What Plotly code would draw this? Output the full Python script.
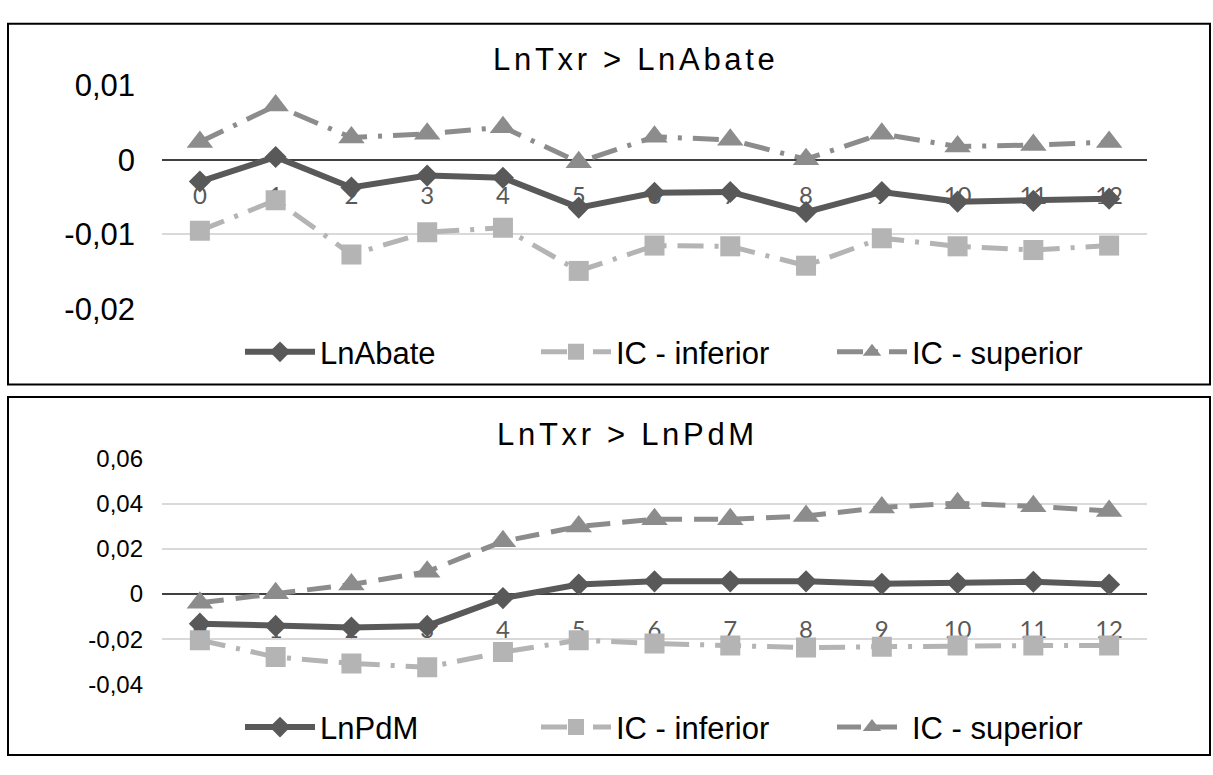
import plotly.graph_objects as go

# ---------------- data ----------------
periods = [0, 1, 2, 3, 4, 5, 6, 7, 8, 9, 10, 11, 12]

abate = [-0.0029, 0.0004, -0.0037, -0.0021, -0.0024, -0.0064, -0.0044,
         -0.0043, -0.0070, -0.0043, -0.0056, -0.0055, -0.0052]
abate_inf = [-0.0095, -0.0054, -0.0127, -0.0097, -0.0091, -0.0149, -0.0115,
             -0.0116, -0.0142, -0.0105, -0.0116, -0.0121, -0.0115]
abate_sup = [0.0024, 0.0073, 0.0030, 0.0035, 0.0044, -0.0003, 0.0031,
             0.0027, 0.0001, 0.0035, 0.0018, 0.0020, 0.0024]

pdm = [-0.0131, -0.0141, -0.0148, -0.0141, -0.0018, 0.0042, 0.0056,
       0.0056, 0.0056, 0.0045, 0.0049, 0.0054, 0.0042]
pdm_inf = [-0.0204, -0.0279, -0.0307, -0.0324, -0.0257, -0.0204, -0.0219,
           -0.0228, -0.0237, -0.0233, -0.0228, -0.0228, -0.0228]
pdm_sup = [-0.0039, 0.0003, 0.0042, 0.0099, 0.0233, 0.0299, 0.0331,
           0.0331, 0.0345, 0.0383, 0.0402, 0.0388, 0.0367]

top_yticks = [-0.02, -0.01, 0, 0.01]
top_yticktext = ["-0,02", "-0,01", "0", "0,01"]
bot_yticks = [-0.04, -0.02, 0, 0.02, 0.04, 0.06]
bot_yticktext = ["-0,04", "-0,02", "0", "0,02", "0,04", "0,06"]

title_top = "LnTxr > LnAbate"
title_bot = "LnTxr > LnPdM"
names_top = ["LnAbate", "IC - inferior", "IC - superior"]
names_bot = ["LnPdM", "IC - inferior", "IC - superior"]

# ---------------- layout helpers ----------------
W, H = 1213, 775


def fx(px):
    return px / W


def fy(px):
    return 1 - px / H


x_dom = [fx(162), fx(1147)]
top_dom = [fy(305.7), fy(71.7)]
bot_dom = [fy(699), fy(462.3)]
top_range = [-0.02, 0.01]
bot_range = [-0.04, 0.06]


def zero_pos(dom, rng):
    return dom[0] + (0 - rng[0]) / (rng[1] - rng[0]) * (dom[1] - dom[0])


C_MAIN = "#595959"
C_INF = "#b4b4b4"
C_SUP = "#8c8c8c"

fig = go.Figure()

# top chart
fig.add_trace(go.Scatter(x=periods, y=abate, name=names_top[0], mode="lines+markers",
                         line=dict(color=C_MAIN, width=6),
                         marker=dict(symbol="diamond", size=17, color=C_MAIN),
                         xaxis="x", yaxis="y", legend="legend"))
fig.add_trace(go.Scatter(x=periods, y=abate_inf, name=names_top[1], mode="lines+markers",
                         line=dict(color=C_INF, width=5, dash="26px,11px,4px,11px"),
                         marker=dict(symbol="square", size=20, color=C_INF),
                         xaxis="x", yaxis="y", legend="legend"))
fig.add_trace(go.Scatter(x=periods, y=abate_sup, name=names_top[2], mode="lines+markers",
                         line=dict(color=C_SUP, width=5, dash="26px,11px,4px,11px"),
                         marker=dict(symbol="triangle-up", size=23, color=C_SUP),
                         xaxis="x", yaxis="y", legend="legend"))

# bottom chart
fig.add_trace(go.Scatter(x=periods, y=pdm, name=names_bot[0], mode="lines+markers",
                         line=dict(color=C_MAIN, width=6),
                         marker=dict(symbol="diamond", size=17, color=C_MAIN),
                         xaxis="x2", yaxis="y2", legend="legend2"))
fig.add_trace(go.Scatter(x=periods, y=pdm_inf, name=names_bot[1], mode="lines+markers",
                         line=dict(color=C_INF, width=5, dash="26px,11px,4px,11px"),
                         marker=dict(symbol="square", size=20, color=C_INF),
                         xaxis="x2", yaxis="y2", legend="legend2"))
fig.add_trace(go.Scatter(x=periods, y=pdm_sup, name=names_bot[2], mode="lines+markers",
                         line=dict(color=C_SUP, width=5, dash="24px,12px"),
                         marker=dict(symbol="triangle-up", size=23, color=C_SUP),
                         xaxis="x2", yaxis="y2", legend="legend2"))

xfont = dict(family="Lato, Carlito, Liberation Sans, sans-serif", size=24, color="#595959")
common_x = dict(range=[-0.5, 12.5], tickmode="array", tickvals=periods,
                ticktext=[str(p) for p in periods], showgrid=False, zeroline=False,
                showline=False, ticks="", tickfont=xfont, layer="below traces",
                anchor="free", fixedrange=True)
common_y = dict(showgrid=True, gridcolor="#d9d9d9", gridwidth=1.5, zeroline=True,
                zerolinecolor="#404040", zerolinewidth=2, showline=False, ticks="",
                tickmode="array", layer="below traces", fixedrange=True)

legend_common = dict(orientation="h", xanchor="left", yanchor="middle",
                     font=dict(size=31, color="#000000"), entrywidth=211,
                     itemwidth=70, bgcolor="rgba(0,0,0,0)")

fig.update_layout(
    width=W, height=H,
    margin=dict(l=0, r=0, t=0, b=0),
    paper_bgcolor="white", plot_bgcolor="white",
    font=dict(family="Liberation Sans, Arial, sans-serif", color="#000000"),
    showlegend=True,
    xaxis=dict(domain=x_dom, position=zero_pos(top_dom, top_range),
               ticklabelstandoff=19, **common_x),
    xaxis2=dict(domain=x_dom, position=zero_pos(bot_dom, bot_range),
                ticklabelstandoff=19, **common_x),
    yaxis=dict(domain=top_dom, range=top_range, anchor="x", tickvals=top_yticks,
               ticktext=top_yticktext, ticklabelstandoff=26,
               tickfont=dict(size=31, color="#000000"), **common_y),
    yaxis2=dict(domain=bot_dom, range=bot_range, anchor="x2", tickvals=bot_yticks,
                ticktext=bot_yticktext, ticklabelstandoff=18,
                tickfont=dict(size=24, color="#000000"), **common_y),
    legend=dict(x=fx(240), y=fy(351), **legend_common),
    legend2=dict(x=fx(240), y=fy(744), **legend_common),
    shapes=[
        dict(type="rect", xref="paper", yref="paper", x0=fx(8), x1=fx(1210),
             y0=fy(385), y1=fy(7), line=dict(color="#000000", width=2)),
        dict(type="rect", xref="paper", yref="paper", x0=fx(8), x1=fx(1210),
             y0=fy(773), y1=fy(398), line=dict(color="#000000", width=2)),
    ],
    annotations=[
        dict(text='<span style="letter-spacing:3.7px">' + title_top + '</span>',
             xref="paper", yref="paper", x=fx(636), y=fy(44), xanchor="center",
             yanchor="middle", showarrow=False, font=dict(size=31, color="#000000")),
        dict(text='<span style="letter-spacing:3.7px">' + title_bot + '</span>',
             xref="paper", yref="paper", x=fx(627), y=fy(437), xanchor="center",
             yanchor="middle", showarrow=False, font=dict(size=31, color="#000000")),
    ],
)

fig.write_html("out.html")
